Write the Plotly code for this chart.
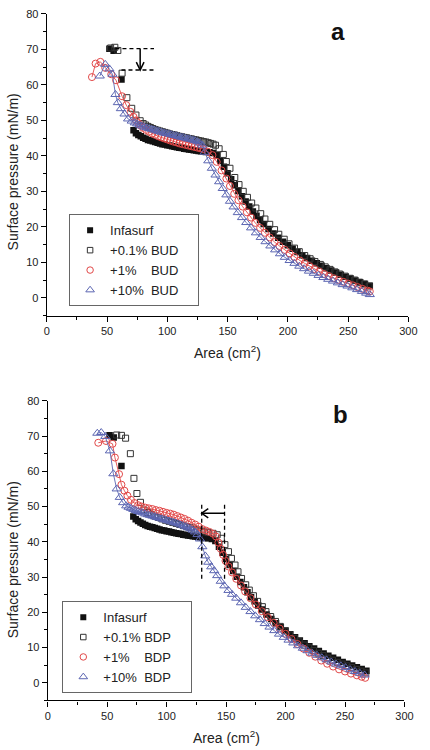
import plotly.graph_objects as go

# ---------------- data ----------------
INF_X = [52, 55.5, 62, 72, 74, 76, 78, 80, 82, 84,
         86, 88, 90, 92, 94, 96, 98, 100, 102, 104,
         106, 108, 110, 112, 114, 116, 118, 120, 122, 124,
         126, 128, 130, 132, 135, 138, 141, 144, 147, 150,
         153, 156, 159, 162, 165, 168, 171, 174, 177, 180,
         184, 188, 192, 196, 200, 204, 208, 212, 216, 220,
         224, 228, 232, 236, 240, 244, 248, 252, 256, 260,
         264, 268]
INF_Y = [70.2, 69.6, 61.5, 47.2, 46.4, 45.9, 45.5, 45.1, 44.8, 44.5,
         44.3, 44.1, 43.9, 43.7, 43.5, 43.3, 43.2, 43.0, 42.9, 42.7,
         42.6, 42.4, 42.3, 42.2, 42.0, 41.9, 41.8, 41.7, 41.6, 41.5,
         41.4, 41.3, 41.2, 41.1, 41.0, 40.8, 40.2, 38.6, 36.9, 35.1,
         33.4, 31.7, 30.1, 28.6, 27.1, 25.7, 24.3, 23.1, 21.9, 20.8,
         19.4, 18.1, 16.9, 15.8, 14.8, 13.8, 12.9, 12.0, 11.2, 10.4,
         9.7, 9.0, 8.3, 7.7, 7.1, 6.5, 5.9, 5.4, 4.9, 4.4,
         3.9, 3.4]

# panel a : budesonide (BUD)
BUD01_X = [53, 56.5, 59, 62.5, 66.5, 70.5, 74, 77.5, 80, 82,
           84, 86, 88, 90, 92, 94, 96, 98, 100, 102,
           104, 106, 108, 110, 112, 114, 116, 118, 120, 122,
           124, 126, 128, 130, 132, 134, 136, 138, 140, 143,
           146.5, 149, 152, 156, 159.5, 163, 166.5, 170, 173.5, 177.5,
           181, 185, 189, 192.5, 197, 201, 205.5, 209.5, 214, 218.5,
           222.5, 227, 231, 235, 239, 243, 247.5, 251.5, 255.5, 259.5,
           263.5, 267.5]
BUD01_Y = [70.4, 70.6, 69.7, 63.3, 56.4, 53.4, 51.5, 49.9, 49.1, 48.7,
           48.3, 48.0, 47.7, 47.4, 47.2, 47.0, 46.8, 46.6, 46.4, 46.2,
           46.0, 45.9, 45.7, 45.5, 45.4, 45.2, 45.1, 44.9, 44.8, 44.6,
           44.5, 44.3, 44.2, 44.0, 43.9, 43.7, 43.5, 43.3, 43.0, 42.0,
           40.4, 38.4, 36.5, 33.9, 31.9, 30.0, 28.3, 26.7, 25.3, 23.7,
           22.2, 20.7, 19.2, 17.9, 16.5, 15.2, 14.0, 13.0, 11.9, 11.0,
           10.2, 9.4, 8.7, 8.0, 7.3, 6.7, 6.1, 5.5, 5.0, 4.4,
           3.9, 3.3]
BUD1_X = [37.5, 40.5, 44.5, 48.5, 53.5, 57.5, 62.5, 66, 69.5, 72,
          74, 76, 78, 80, 82.5, 85, 87.5, 90, 92.5, 95,
          97.5, 100, 102.5, 105, 107.5, 110, 112.5, 115, 117.5, 120,
          122.5, 125, 127.5, 130, 133.5, 137.5, 141, 145, 149, 152,
          155.5, 159, 162.5, 166, 169.5, 173, 177, 181, 185, 189,
          193, 197.5, 201.5, 205.5, 210, 214, 218, 222, 226, 230,
          234, 238, 242, 246, 250, 254, 258, 262, 266, 268]
BUD1_Y = [62.2, 66.0, 66.5, 64.8, 63.0, 61.3, 56.8, 54.3, 52.4, 51.0,
          50.0, 49.2, 48.5, 47.9, 47.3, 46.8, 46.3, 45.9, 45.5, 45.2,
          44.9, 44.6, 44.3, 44.0, 43.8, 43.5, 43.3, 43.1, 42.9, 42.7,
          42.5, 42.3, 42.1, 41.9, 41.2, 40.2, 38.3, 35.9, 33.6, 31.5,
          29.3, 27.5, 25.7, 24.1, 22.6, 21.1, 19.7, 18.3, 17.0, 15.7,
          14.6, 13.5, 12.5, 11.5, 10.5, 9.7, 8.9, 8.1, 7.4, 6.7,
          6.1, 5.5, 5.0, 4.5, 4.0, 3.5, 3.0, 2.5, 2.0, 1.8]
BUD10_X = [44, 48.5, 52, 54.5, 57, 59, 61.5, 64.5, 67.5, 70.5,
           73, 75, 77, 79, 81, 83, 85, 87, 89, 91,
           93, 95, 97, 99, 101, 103, 105, 107, 109, 111,
           113, 115, 117, 119, 121, 123, 125, 127, 129, 131,
           134, 137, 140, 143, 146, 149, 152, 155, 158.5, 162,
           165.5, 169.5, 173.5, 177.5, 181.5, 185.5, 189.5, 193.5, 197.5, 201.5,
           205.5, 209.5, 213.5, 217.5, 221.5, 225.5, 229.5, 233.5, 237.5, 241.5,
           245.5, 249.5, 253.5, 257.5, 261.5, 265, 268]
BUD10_Y = [62.5, 65.8, 64.5, 63.0, 57.3, 55.0, 53.3, 51.8, 50.4, 49.8,
           49.3, 49.0, 48.7, 48.4, 48.1, 47.9, 47.7, 47.5, 47.3, 47.1,
           46.9, 46.7, 46.5, 46.3, 46.2, 46.0, 45.8, 45.7, 45.5, 45.3,
           45.2, 45.0, 44.8, 44.7, 44.5, 44.3, 44.0, 43.6, 43.0, 41.0,
           38.6, 36.5, 34.6, 32.7, 30.8, 29.0, 27.2, 25.6, 24.0, 22.6,
           21.2, 19.7, 18.3, 17.0, 15.8, 14.6, 13.5, 12.4, 11.4, 10.5,
           9.7, 8.9, 8.2, 7.5, 6.9, 6.3, 5.7, 5.2, 4.7, 4.2,
           3.7, 3.3, 2.8, 2.3, 1.8, 1.3, 0.9]

# panel b : beclomethasone dipropionate (BDP)
BDP01_X = [58, 62, 65.5, 69.5, 72.5, 75, 78, 81, 84, 87,
           90, 93, 96, 99, 102, 105, 108, 111, 114, 117,
           120, 123, 126, 129, 132, 135, 139, 142.5, 146, 149,
           152, 154.5, 157.5, 160, 163, 166.5, 169.5, 173, 176.5, 180.5,
           183.5, 187.5, 191.5, 195.5, 199.5, 203.5, 207.5, 211.5, 215.5, 219.5,
           223.5, 227.5, 231.5, 235.5, 239.5, 243.5, 247.5, 251.5, 255.5, 259.5,
           263.5, 267.5]
BDP01_Y = [70.3, 70.2, 69.4, 65.0, 58.0, 53.7, 51.2, 49.0, 48.3, 47.8,
           47.3, 46.9, 46.5, 46.1, 45.8, 45.5, 45.2, 44.9, 44.6, 44.3,
           44.0, 43.6, 43.3, 43.0, 42.8, 42.6, 42.4, 42.0, 41.0, 39.2,
           37.2, 35.3, 33.4, 31.5, 29.6, 27.8, 26.3, 24.7, 23.1, 21.6,
           20.2, 18.8, 17.4, 16.0, 14.7, 13.6, 12.6, 11.6, 10.7, 9.9,
           9.1, 8.4, 7.7, 7.0, 6.4, 5.8, 5.3, 4.8, 4.3, 3.8,
           3.3, 2.8]
BDP1_X = [42.5, 49, 54.5, 56.5, 60, 62, 64.5, 67, 70, 73,
          76, 79, 82, 85, 88, 91, 94, 97, 100, 103,
          106, 109, 112, 115, 118, 121, 124, 127, 130, 133,
          136, 139, 141.5, 143.5, 145.5, 147.5, 149.5, 152, 155, 158.5,
          162.5, 166, 170.5, 175, 180, 185, 190, 195, 200, 205,
          210, 215, 220, 225, 230, 235, 240, 245, 250, 255,
          260, 264, 267]
BDP1_Y = [68.1, 68.6, 67.8, 63.9, 59.2, 56.2, 54.5, 53.1, 51.9, 51.0,
          50.4, 50.0, 49.7, 49.5, 49.3, 49.0, 48.8, 48.5, 48.2, 48.0,
          47.7, 47.3, 46.9, 46.5, 46.0, 45.4, 44.9, 44.3, 43.6, 43.2,
          42.8, 42.3, 41.5, 39.8, 38.0, 36.3, 34.6, 33.0, 31.3, 29.5,
          27.6, 25.9, 24.0, 22.2, 20.3, 18.6, 17.0, 15.4, 13.9, 12.4,
          11.0, 9.7, 8.5, 7.4, 6.3, 5.4, 4.6, 3.8, 3.2, 2.6,
          2.1, 1.7, 1.4]
BDP10_X = [41.7, 45, 48.4, 52.3, 55.2, 58, 60.6, 63.4, 66, 68,
           70, 72, 74, 76, 78, 80, 82, 84, 86, 88,
           90, 92, 94, 96, 98, 100, 102, 104, 106, 108,
           110, 112, 114, 116, 118, 120, 122, 124, 126, 128,
           130, 132.5, 135, 137.5, 140, 142.5, 145.5, 148.5, 152, 155,
           158.5, 162.5, 166.5, 170.5, 174.5, 178.5, 182.5, 186.5, 190.5, 194.5,
           198.5, 202.5, 206.5, 210.5, 214.5, 218.5, 222.5, 226.5, 230.5, 234.5,
           238.5, 242.5, 246.5, 250.5, 254.5, 258.5, 262.5, 266.5]
BDP10_Y = [70.8, 71.0, 69.9, 65.8, 59.3, 55.0, 52.6, 51.1, 50.2, 49.8,
           49.5, 49.2, 48.9, 48.6, 48.4, 48.2, 47.9, 47.7, 47.5, 47.3,
           47.1, 46.9, 46.7, 46.5, 46.3, 46.1, 45.9, 45.7, 45.5, 45.3,
           45.1, 44.8, 44.6, 44.3, 44.0, 43.7, 43.3, 42.8, 42.1, 40.8,
           38.6, 36.0, 34.2, 32.9, 31.8, 30.4, 28.8, 27.5, 26.2, 25.1,
           24.0, 22.7, 21.4, 20.2, 19.0, 17.9, 16.8, 15.8, 14.8, 13.8,
           12.9, 12.1, 11.3, 10.5, 9.8, 9.1, 8.4, 7.8, 7.1, 6.5,
           5.9, 5.3, 4.8, 4.3, 3.7, 3.2, 2.7, 2.2]

NB = "\u00a0"
NAMES_A = ["Infasurf", "+0.1% BUD" + NB * 4, "+1%" + NB * 4 + "BUD", "+10%" + NB * 2 + "BUD"]
NAMES_B = ["Infasurf", "+0.1% BDP" + NB * 4, "+1%" + NB * 4 + "BDP", "+10%" + NB * 2 + "BDP"]

# annotation guides (data units)
A_DASH_Y = [70.2, 64.2]
A_DASH_X0 = [57, 62]
A_DASH_X1 = 89
A_ARROW_X = 77.5
B_DASH_X = [129.5, 148.7]
B_DASH_Y = [29.5, 51.0]
B_ARROW_Y = 48.1

# ---------------- styling ----------------
FONT = "Liberation Sans, Arial, sans-serif"
BLACK = "#111111"
RED = "rgb(226,72,72)"
BLUE = "rgb(92,102,178)"
STYLES = [
    dict(symbol="square", color=BLACK, size=6.5, lw=0, line=False),
    dict(symbol="square-open", color="#333333", size=6, lw=1, line=False),
    dict(symbol="circle-open", color=RED, size=7, lw=1, line=True),
    dict(symbol="triangle-up-open", color=BLUE, size=8, lw=1, line=True),
]

fig = go.Figure()


def add_panel(series, names, xa, ya, legend):
    for (x, y), st in zip(series, STYLES):
        fig.add_trace(go.Scatter(
            x=x, y=y, xaxis=xa, yaxis=ya,
            mode="lines+markers" if st["line"] else "markers",
            line=dict(color=st["color"], width=0.9),
            marker=dict(symbol=st["symbol"], size=st["size"], color=st["color"],
                        line=dict(width=st["lw"], color=st["color"])),
            showlegend=False, hoverinfo="skip"))
    for st, nm in zip(STYLES, names):
        fig.add_trace(go.Scatter(
            x=[None], y=[None], xaxis=xa, yaxis=ya, mode="markers", name=nm,
            marker=dict(symbol=st["symbol"], size=st["size"] - 0.5, color=st["color"],
                        line=dict(width=st["lw"], color=st["color"])),
            showlegend=True, legend=legend))


add_panel([(INF_X, INF_Y), (BUD01_X, BUD01_Y), (BUD1_X, BUD1_Y), (BUD10_X, BUD10_Y)],
          NAMES_A, "x", "y", "legend")
add_panel([(INF_X, INF_Y), (BDP01_X, BDP01_Y), (BDP1_X, BDP1_Y), (BDP10_X, BDP10_Y)],
          NAMES_B, "x2", "y2", "legend2")

W, H = 430, 750


def px_x(p):
    return p / W


def px_y(p):
    return 1 - p / H


axis_common = dict(
    showline=True, linecolor="black", linewidth=1.2, mirror=False,
    showgrid=False, zeroline=False, ticks="outside", ticklen=5, tickwidth=1,
    tickcolor="black", tickfont=dict(family=FONT, size=11, color="#222"),
)

fig.update_layout(
    width=W, height=H, margin=dict(l=0, r=0, t=0, b=0),
    paper_bgcolor="white", plot_bgcolor="white",
    font=dict(family=FONT, color="#222"),
    xaxis=dict(domain=[px_x(45), px_x(417)], range=[0, 300], dtick=50, anchor="y",
               minor=dict(dtick=25, ticks="outside", ticklen=3, tickcolor="black"),
               **axis_common),
    yaxis=dict(domain=[px_y(312), px_y(8)], range=[-5, 80], dtick=10, tick0=0, anchor="x",
               minor=dict(dtick=5, tick0=0, ticks="outside", ticklen=3, tickcolor="black"),
               **axis_common),
    xaxis2=dict(domain=[px_x(46), px_x(413)], range=[0, 300], dtick=50, anchor="y2",
                minor=dict(dtick=25, ticks="outside", ticklen=3, tickcolor="black"),
                **axis_common),
    yaxis2=dict(domain=[px_y(700), px_y(398)], range=[-5, 80], dtick=10, tick0=0, anchor="x2",
                minor=dict(dtick=5, tick0=0, ticks="outside", ticklen=3, tickcolor="black"),
                **axis_common),
    legend=dict(x=px_x(68), y=px_y(210), xanchor="left", yanchor="top",
                bordercolor="#666", borderwidth=1, bgcolor="white",
                font=dict(family=FONT, size=13, color="#222"),
                tracegroupgap=0, itemsizing="trace"),
    legend2=dict(x=px_x(61), y=px_y(600), xanchor="left", yanchor="top",
                 bordercolor="#666", borderwidth=1, bgcolor="white",
                 font=dict(family=FONT, size=13, color="#222"),
                 tracegroupgap=0, itemsizing="trace"),
    showlegend=True,
)

# guide shapes
dash = dict(color="black", width=1.3, dash="4px,3px")
shapes = []
for yv, x0 in zip(A_DASH_Y, A_DASH_X0):
    shapes.append(dict(type="line", xref="x", yref="y", x0=x0, x1=A_DASH_X1, y0=yv, y1=yv, line=dash))
for xv in B_DASH_X:
    shapes.append(dict(type="line", xref="x2", yref="y2", x0=xv, x1=xv,
                       y0=B_DASH_Y[0], y1=B_DASH_Y[1], line=dash))
solid = dict(color="black", width=1.5)
# arrow a (vertical, pointing down)
shapes.append(dict(type="line", xref="x", yref="y", x0=A_ARROW_X, x1=A_ARROW_X,
                   y0=A_DASH_Y[0], y1=A_DASH_Y[1], line=solid))
shapes.append(dict(type="path", xref="x", yref="y",
                   path=f"M {A_ARROW_X-3.2},{A_DASH_Y[1]+2.2} L {A_ARROW_X},{A_DASH_Y[1]} L {A_ARROW_X+3.2},{A_DASH_Y[1]+2.2}",
                   line=solid))
# arrow b (horizontal, pointing left)
shapes.append(dict(type="line", xref="x2", yref="y2", x0=B_DASH_X[1], x1=B_DASH_X[0],
                   y0=B_ARROW_Y, y1=B_ARROW_Y, line=solid))
shapes.append(dict(type="path", xref="x2", yref="y2",
                   path=f"M {B_DASH_X[0]+5.5},{B_ARROW_Y+1.3} L {B_DASH_X[0]},{B_ARROW_Y} L {B_DASH_X[0]+5.5},{B_ARROW_Y-1.3}",
                   line=solid))
fig.update_layout(shapes=shapes)

title_font = dict(family=FONT, size=14, color="#222")
ann = [
    dict(text="<b>a</b>", x=px_x(345), y=px_y(26), font=dict(family=FONT, size=24, color="#111")),
    dict(text="<b>b</b>", x=px_x(347), y=px_y(412), font=dict(family=FONT, size=24, color="#111")),
    dict(text="Area (cm<sup>2</sup>)", x=px_x(231), y=px_y(349), font=title_font),
    dict(text="Area (cm<sup>2</sup>)", x=px_x(230), y=px_y(737), font=title_font),
    dict(text="Surface pressure (mN/m)", x=px_x(10), y=px_y(167), textangle=-90, font=title_font),
    dict(text="Surface pressure (mN/m)", x=px_x(10), y=px_y(558), textangle=-90, font=title_font),
]
for a in ann:
    fig.add_annotation(xref="paper", yref="paper", showarrow=False,
                       xanchor="center", yanchor="middle", **a)

fig.write_html("out.html", config={"displayModeBar": False},
               post_script="document.body.style.margin='0';document.body.style.overflow='hidden';")
